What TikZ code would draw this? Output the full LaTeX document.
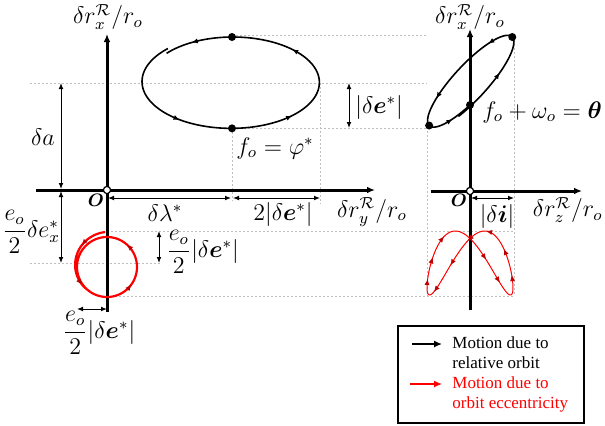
\documentclass[tikz,border=0pt]{standalone}
\usepackage{amsmath}
\usepackage{fontspec}
\usepackage{tikz}
\usetikzlibrary{arrows.meta,calc}
\newfontfamily\legendfont{Liberation Serif}
\definecolor{guidegray}{RGB}{190,190,190}
\definecolor{orbitred}{RGB}{255,0,0}
\definecolor{tipred}{RGB}{190,0,0}
\tikzset{
    axisline/.style={
        line width=1.5pt,
        -{Latex[length=4pt,width=3.4pt]}
    },
    guide/.style={
        guidegray,
        line width=0.5pt,
        dash pattern=on 1pt off 1pt
    },
    dimension/.style={
        line width=0.5pt,
        {Latex[length=3pt,width=2.4pt]}-{Latex[length=3pt,width=2.4pt]}
    },
    orbit/.style={line width=0.8pt},
    ecc/.style={orbitred, line width=1.1pt},
    blacktip/.style={line width=0.8pt, -{Latex[length=3pt,width=2.6pt]}},
    redtip/.style={orbitred, line width=0.5pt, -{Latex[length=3pt,width=2.6pt,color=tipred]}},
    mlabel/.style={font=\large, inner sep=1pt},
    originlabel/.style={font=\small, inner sep=0pt},
    origin/.style={circle, draw=black, fill=white, line width=0.6pt, inner sep=0pt, minimum size=3.6pt},
    dot/.style={circle, fill=black, inner sep=0pt, minimum size=4pt},
    legendbox/.style={
        rectangle,
        draw=black,
        line width=1pt,
        minimum width=93pt,
        minimum height=48.5pt
    },
    legendtext/.style={font=\legendfont\fontsize{8.5}{10}\selectfont, align=left, inner sep=0pt},
    legendarrow/.style={line width=1pt, -{Latex[length=4pt,width=3.6pt]}},
    declare function={
        ellsc(\t)=1.03-0.06*(\t-135)/365;
        ellx(\t)=232+88*ellsc(\t)*cos(\t);
        elly(\t)=82-46*ellsc(\t)*sin(\t);
        tiltsc(\t)=1.04-0.07*(\t+15)/375;
        tiltx(\t)=470+43*tiltsc(\t)*sin(\t);
        tilty(\t)=82-46*tiltsc(\t)*sin(\t-31);
        circr(\t)=30+5*max(0,(230-\t)/137);
        circx(\t)=107+circr(\t)*cos(\t);
        circy(\t)=267-circr(\t)*sin(\t);
        archx(\t)=470+43*sin(\t);
        archy(\t)=263-32*cos(2*\t+40);
    }
}

\begin{document}
\begin{tikzpicture}[x=0.5pt, y=-0.5pt]
\useasboundingbox (0,0) rectangle (605,425);

% guide lines
\draw[guide] (30,83) -- (427,83);
\draw[guide] (232,35) -- (427,35);
\draw[guide] (232,128) -- (427,128);
\draw[guide] (232,128) -- (232,201);
\draw[guide] (320,83) -- (320,204);
\draw[guide] (427,127) -- (427,296);
\draw[guide] (514,36) -- (514,296);
\draw[guide] (107,231) -- (514,231);
\draw[guide] (30,263) -- (160,263);
\draw[guide] (107,296) -- (514,296);

% left axes
\draw[axisline] (36,190) -- (375,190);
\draw[axisline] (107,312) -- (107,34);
\node[origin] (lo) at (107,190) {};
\node[mlabel] (lx-lbl) at (108,17) {$\delta r_x^{\mathcal{R}}/r_o$};
\node[mlabel] (ly-lbl) at (372,212) {$\delta r_y^{\mathcal{R}}/r_o$};
\node[originlabel] (lo-lbl) at (96,200) {$\boldsymbol{O}$};

% right axes
\draw[axisline] (431,191) -- (582,191);
\draw[axisline] (470,310) -- (470,29);
\node[origin] (ro) at (470,191) {};
\node[mlabel] (rx-lbl) at (470,17) {$\delta r_x^{\mathcal{R}}/r_o$};
\node[mlabel, anchor=east, inner sep=0pt] (rz-lbl) at (603,210) {$\delta r_z^{\mathcal{R}}/r_o$};
\node[originlabel] (ro-lbl) at (459,200) {$\boldsymbol{O}$};

% relative orbit, in-plane
\draw[orbit] plot[domain=135:500, samples=140, smooth] ({ellx(\x)},{elly(\x)});
\foreach \t in {234,313,406,478}
    \draw[blacktip] plot[domain=\t-4:\t, samples=2] ({ellx(\x)},{elly(\x)});
\node[dot] (ell-top) at ({ellx(450)},{elly(450)}) {};
\node[dot] (ell-bot) at ({ellx(270)},{elly(270)}) {};
\node[mlabel, anchor=west] (ell-lbl) at (234,148) {$f_o=\varphi^*$};

% relative orbit, radial / cross-track
\draw[orbit] plot[domain=-15:360, samples=140, smooth] ({tiltx(\x)},{tilty(\x)});
\foreach \t in {42,155,232,335}
    \draw[blacktip] plot[domain=\t-4:\t, samples=2] ({tiltx(\x)},{tilty(\x)});
\node[dot] (tilt-top) at ({tiltx(105)},{tilty(105)}) {};
\node[dot] (tilt-low) at ({tiltx(285)},{tilty(285)}) {};
\node[dot] (tilt-mid) at ({tiltx(360)},{tilty(360)}) {};
\node[mlabel, anchor=west] (tilt-lbl) at (480,112) {$f_o+\omega_o=\boldsymbol{\theta}$};

% eccentricity effect, in-plane
\draw[ecc] plot[domain=93:590, samples=160, smooth] ({circx(\x)},{circy(\x)});
\foreach \t in {139,215,324,408}
    \draw[redtip] plot[domain=\t-4:\t, samples=2] ({circx(\x)},{circy(\x)});

% eccentricity effect, radial / cross-track
\draw[ecc, line width=0.5pt] plot[domain=-90:270, samples=180, smooth] ({archx(\x)},{archy(\x)});
\foreach \t in {-80,-60,-37,22,44,104,128,158,183,207,237}
    \draw[redtip] plot[domain=\t-4:\t, samples=2] ({archx(\x)},{archy(\x)});

% dimensions
\draw[dimension] (61,83) -- (61,189);
\node[mlabel] (da-lbl) at (43,137) {$\delta a$};
\draw[dimension] (61,191) -- (61,263);
\node[mlabel] (dex-lbl) at (31,232) {$\dfrac{e_o}{2}\delta e_x^*$};
\draw[dimension] (159,231) -- (159,263);
\node[mlabel, anchor=west] (rad-lbl) at (164,252) {$\dfrac{e_o}{2}|\delta\boldsymbol{e}^*|$};
\draw[dimension] (77,309) -- (107,309);
\node[mlabel] (rad2-lbl) at (99,333) {$\dfrac{e_o}{2}|\delta\boldsymbol{e}^*|$};
\draw[dimension] (108,198) -- (231,198);
\node[mlabel] (dl-lbl) at (165,213) {$\delta\lambda^*$};
\draw[dimension] (233,198) -- (320,198);
\node[mlabel] (de2-lbl) at (283,214) {$2|\delta\boldsymbol{e}^*|$};
\draw[dimension] (349,83) -- (349,128);
\node[mlabel, anchor=west] (de-lbl) at (353,107) {$|\delta\boldsymbol{e}^*|$};
\draw[dimension] (471,198) -- (514,198);
\node[mlabel] (di-lbl) at (497,216) {$|\delta\boldsymbol{i}|$};

% legend
\node[legendbox] (legend) at (491,374.5) {};
\draw[legendarrow] (412,344) -- (442,344);
\node[legendtext, anchor=west] (leg-black) at (452,353) {Motion due to\\relative orbit};
\draw[legendarrow, orbitred] (410,384) -- (442,384);
\node[legendtext, anchor=west, text=orbitred] (leg-red) at (452,394) {Motion due to\\orbit eccentricity};
\end{tikzpicture}
\end{document}
